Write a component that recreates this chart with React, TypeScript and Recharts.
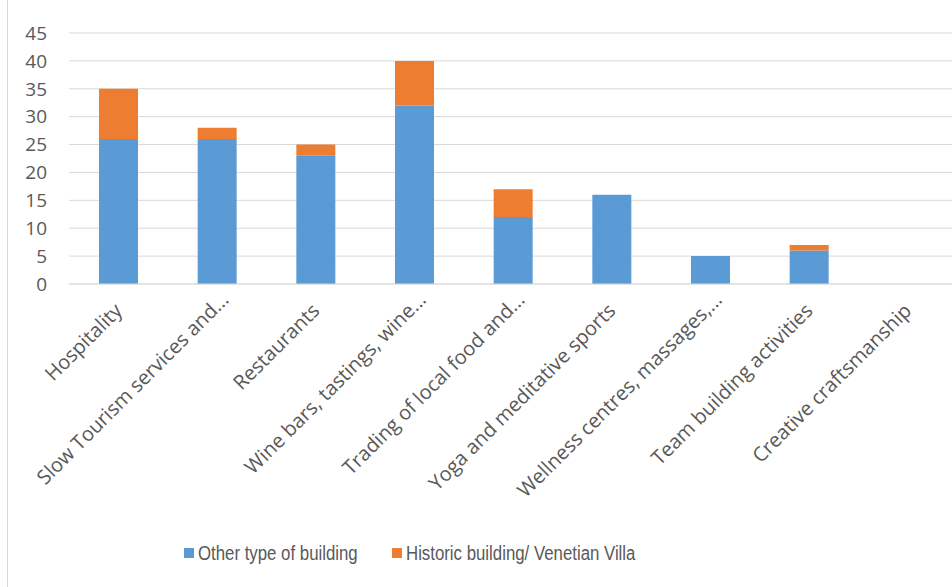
import React from "react";
import { BarChart, Bar, XAxis, YAxis, CartesianGrid, Legend } from "recharts";

const categories = [
  "Hospitality",
  "Slow Tourism services and...",
  "Restaurants",
  "Wine bars, tastings, wine...",
  "Trading of local food and...",
  "Yoga and meditative sports",
  "Wellness centres, massages,...",
  "Team building activities",
  "Creative craftsmanship",
];
const otherBuilding = [26, 26, 23, 32, 12, 16, 5, 6, 0];
const historicBuilding = [9, 2, 2, 8, 5, 0, 0, 1, 0];
const yTicks = [0, 5, 10, 15, 20, 25, 30, 35, 40, 45];
const seriesNames = ["Other type of building", "Historic building/ Venetian Villa"];
const colors = ["#5B9BD5", "#ED7D31"];

const data = categories.map((c, i) => ({
  name: c,
  other: otherBuilding[i],
  historic: historicBuilding[i],
}));

const CatTick = (props: any) => {
  const { x, y, payload } = props;
  const truncated = String(payload.value).endsWith("...");
  const dx = truncated ? 13 : 5;
  const dy = truncated ? 9 : 20;
  return (
    <g transform={`translate(${x + dx},${y + dy})`}>
      <text
        x={0}
        y={0}
        textAnchor="end"
        transform="rotate(-45)"
        fill="#595959"
        fontSize={20}
        fontFamily="'Open Sans', sans-serif"
      >
        {payload.value}
      </text>
    </g>
  );
};

const LegendContent = () => (
  <div
    style={{
      display: "flex",
      alignItems: "center",
      fontFamily: "'Liberation Sans', sans-serif",
      fontSize: 20,
      color: "#595959",
      whiteSpace: "nowrap",
      height: 24,
    }}
  >
    {seriesNames.map((n, i) => (
      <div key={n} style={{ display: "flex", alignItems: "center", width: i === 0 ? 208 : 260, flexShrink: 0 }}>
        <span style={{ display: "inline-block", width: 10, height: 10, background: colors[i], marginRight: 4, flexShrink: 0 }} />
        <span style={{ display: "inline-block", transform: "scaleX(0.84)", transformOrigin: "left center" }}>{n}</span>
      </div>
    ))}
  </div>
);

export default function App() {
  return (
    <div style={{ position: "fixed", left: 0, top: 0, width: 952, height: 587, overflow: "hidden", background: "#fff" }}>
      <div style={{ position: "absolute", left: 7, top: 0, width: 1, height: 587, background: "#d9d9d9" }} />
      <BarChart
        width={960}
        height={587}
        data={data}
        margin={{ top: 33, right: 3, left: 0, bottom: 83 }}
        barSize={39}
      >
        <CartesianGrid vertical={false} stroke="#d9d9d9" strokeWidth={1} />
        <XAxis
          dataKey="name"
          interval={0}
          tick={<CatTick />}
          tickLine={false}
          axisLine={{ stroke: "#d9d9d9" }}
          height={220}
        />
        <YAxis
          width={69}
          domain={[0, 45]}
          ticks={yTicks}
          tickLine={false}
          axisLine={false}
          tickMargin={16}
          tick={{ fill: "#595959", fontSize: 19, fontFamily: "'Open Sans', sans-serif" }}
        />
        <Legend
          layout="horizontal"
          verticalAlign="middle"
          align="center"
          wrapperStyle={{ top: 541, left: 184, width: 500 }}
          content={<LegendContent />}
        />
        <Bar dataKey="other" stackId="a" fill={colors[0]} name={seriesNames[0]} isAnimationActive={false} />
        <Bar dataKey="historic" stackId="a" fill={colors[1]} name={seriesNames[1]} isAnimationActive={false} />
      </BarChart>
    </div>
  );
}
